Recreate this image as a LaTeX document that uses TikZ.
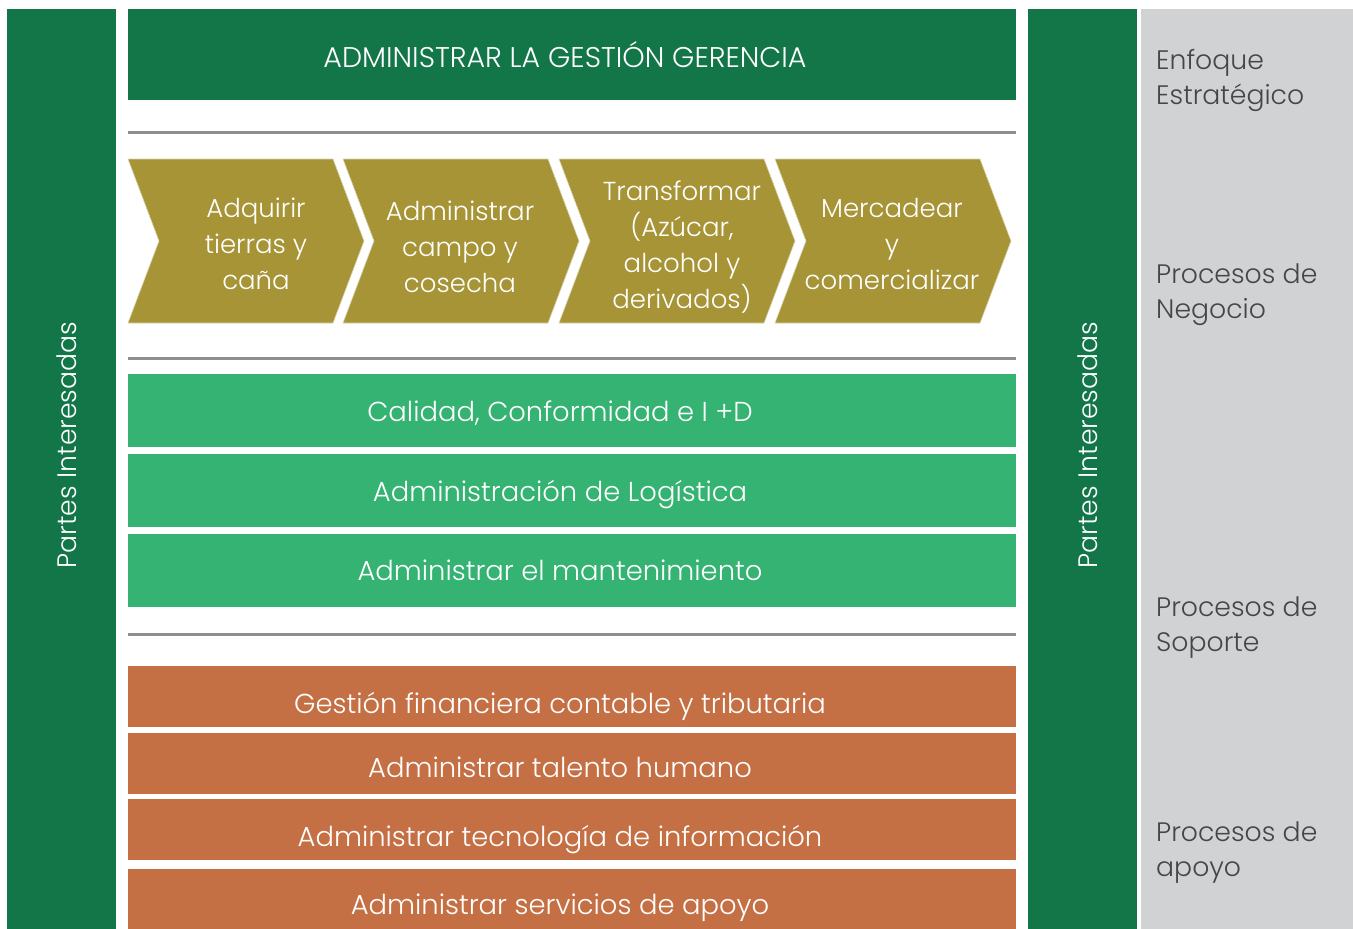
\documentclass[tikz,border=0pt]{standalone}
\usepackage{fontspec}
\setmainfont{Poppins}[UprightFont=* Light]
\definecolor{dgreen}{RGB}{19,118,73}
\definecolor{olive}{RGB}{166,148,54}
\definecolor{lgreen}{RGB}{53,179,114}
\definecolor{orng}{RGB}{197,112,68}
\definecolor{pgray}{RGB}{209,210,212}
\definecolor{lgray}{RGB}{142,142,146}
\definecolor{tgray}{RGB}{70,70,72}
\tikzset{
  wlbl/.style={text=white, align=center, inner sep=0pt, font=\fontsize{27.4}{36}\selectfont},
  chlbl/.style={wlbl, font=\fontsize{26}{36}\selectfont},
  toplbl/.style={wlbl, font=\fontsize{28.5}{36}\selectfont},
  sidelbl/.style={wlbl, rotate=90, font=\fontsize{26.7}{36}\selectfont},
  glbl/.style={text=tgray, align=left, anchor=west, inner sep=0pt, font=\fontsize{26.7}{35}\selectfont},
  sepline/.style={draw=lgray, line width=3pt},
  chev/.style={fill=olive, draw=olive!40!white, line width=0.6pt},
}
\begin{document}
\begin{tikzpicture}[x=1pt,y=-1pt]
\useasboundingbox (0,0) rectangle (1353,929);
\fill[white] (0,0) rectangle (1353,929);
% side bars
\fill[dgreen] (7,9) rectangle (116,929);
\fill[dgreen] (1028,9) rectangle (1137,929);
\fill[pgray] (1141,9) rectangle (1353,929);
% top bar
\fill[dgreen] (128,9) rectangle (1016,100);
\node[toplbl] (top) at (565,55) {ADMINISTRAR LA GESTIÓN GERENCIA};
% separators
\coordinate (s1a) at (128,132); \coordinate (s1b) at (1016,132);
\coordinate (s2a) at (128,358); \coordinate (s2b) at (1016,358);
\coordinate (s3a) at (128,634); \coordinate (s3b) at (1016,634);
\draw[sepline] (s1a) -- (s1b);
\draw[sepline] (s2a) -- (s2b);
\draw[sepline] (s3a) -- (s3b);
% chevrons
\foreach \L in {128,343,559,775}{
  \path[chev] (\L,159) -- ({\L+205},159) -- ({\L+236},241) -- ({\L+205},323) -- (\L,323) -- ({\L+31},241) -- cycle;
}
\node[chlbl] (c1) at (256,244) {Adquirir\\tierras y\\caña};
\node[chlbl] (c2) at (460,247) {Administrar\\campo y\\cosecha};
\node[chlbl] (c3) at (682,247) {Transformar\\(Azúcar,\\alcohol y\\derivados)};
\node[chlbl] (c4) at (892,244) {Mercadear\\y\\comercializar};
% support boxes
\fill[lgreen] (128,374) rectangle (1016,447);
\fill[lgreen] (128,454) rectangle (1016,527);
\fill[lgreen] (128,534) rectangle (1016,607);
\node[wlbl] (g1) at (560,413) {Calidad, Conformidad e I +D};
\node[wlbl] (g2) at (560,495) {Administración de Logística};
\node[wlbl] (g3) at (560,570) {Administrar el mantenimiento};
% apoyo boxes
\fill[orng] (128,666) rectangle (1016,727);
\fill[orng] (128,733) rectangle (1016,794);
\fill[orng] (128,799) rectangle (1016,860);
\fill[orng] (128,869) rectangle (1016,929);
\node[wlbl] (o1) at (560,706) {Gestión financiera contable y tributaria};
\node[wlbl] (o2) at (560,767) {Administrar talento humano};
\node[wlbl] (o3) at (560,840) {Administrar tecnología de información};
\node[wlbl] (o4) at (560,908) {Administrar servicios de apoyo};
% side labels
\node[sidelbl] (pl) at (67,445) {Partes Interesadas};
\node[sidelbl] (pr) at (1088,445) {Partes Interesadas};
% right panel
\node[glbl] (r1) at (1156,80) {Enfoque\\Estratégico};
\node[glbl] (r2) at (1156,295) {Procesos de\\Negocio};
\node[glbl] (r3) at (1156,628) {Procesos de\\Soporte};
\node[glbl] (r4) at (1156,853) {Procesos de\\apoyo};
\end{tikzpicture}
\end{document}
